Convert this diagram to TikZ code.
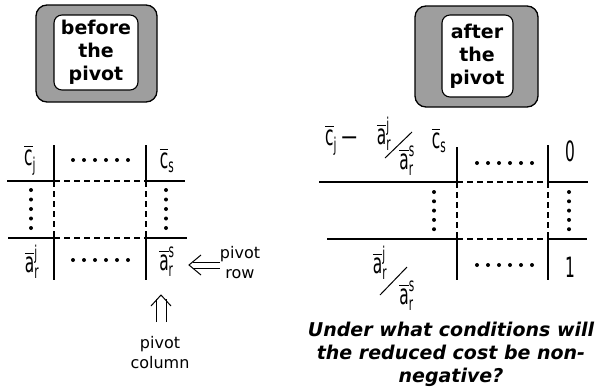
\documentclass[tikz,border=0pt]{standalone}
\usepackage{amsmath}
\usepackage{fontspec}
\setmainfont{DejaVu Sans}
\newfontfamily\tabfont[FakeStretch=0.55]{DejaVu Sans}
\newcommand\ov[1]{\overline{\text{#1}}}
\newcommand\ix[1]{\text{\fontsize{19}{19}\selectfont #1}}
\begin{document}
\begin{tikzpicture}[x=1pt,y=-1pt,
  solidline/.style={line width=1.1pt},
  dashline/.style={line width=1.1pt, dash pattern=on 6pt off 4pt},
  greyframe/.style={draw, line width=1.3pt, rounded corners=11pt, fill=black!38},
  card/.style={draw, line width=1.1pt, rounded corners=8pt, fill=white},
  boxtext/.style={font=\fontsize{19}{23}\selectfont\bfseries, align=center, inner sep=0pt},
  entry/.style={font=\tabfont\fontsize{28}{32}\selectfont, inner sep=0pt},
  smalltext/.style={font=\fontsize{16}{20}\selectfont, align=center, inner sep=0pt},
  question/.style={font=\fontsize{19}{23}\selectfont\bfseries\itshape, align=center, inner sep=0pt},
  arrowline/.style={line width=1pt}
]
\useasboundingbox (0,0) rectangle (597,389);

% ---- framed titles ----
\draw[greyframe] (36,5) rectangle (157,102);
\draw[card] (54,15) rectangle (138,90);
\node[boxtext] (before) at (96,52) {before\\the\\pivot};

\draw[greyframe] (415,6) rectangle (538,107);
\draw[card] (442,15) rectangle (513,97);
\node[boxtext] (after) at (477,56) {after\\the\\pivot};

% ---- tableau before the pivot ----
\draw[solidline] (7,181) -- (54,181) (146,181) -- (185,181);
\draw[dashline] (54,181) -- (146,181);
\draw[solidline] (8,238) -- (54,238) (146,238) -- (187,238);
\draw[dashline] (54,238) -- (146,238);
\foreach \x in {54,146} {
  \draw[solidline] (\x,145) -- (\x,181) (\x,238) -- (\x,280);
  \draw[dashline] (\x,181) -- (\x,238);
}
\foreach \i in {0,...,5} {
  \fill (73+11*\i,160) circle (2pt);
  \fill (73+11*\i,260) circle (2pt);
}
\foreach \i in {0,...,4} {
  \fill (31,190+9.5*\i) circle (2pt);
  \fill (166,190+9.5*\i) circle (2pt);
}
\node[entry] (cj) at (30,160) {$\ov{c}_{\ix{j}}$};
\node[entry] (cs) at (167,160) {$\ov{c}_{\ix{s}}$};
\node[entry] (arj) at (32,262) {$\ov{a}^{\ix{j}}_{\ix{r}}$};
\node[entry] (ars) at (167,262) {$\ov{a}^{\ix{s}}_{\ix{r}}$};

% pivot row marker
\node[smalltext] (prow) at (240,263) {pivot\\row};
\coordinate (rowtip) at (189,265);
\draw[arrowline] (prow.west |- 0,262) -- (193,262);
\draw[arrowline] (prow.west |- 0,268) -- (193,268);
\draw[arrowline] (201,255) -- (rowtip) -- (201,275);

% pivot column marker
\node[smalltext] (pcol) at (160,353) {pivot\\column};
\coordinate (coltip) at (161,295);
\draw[arrowline] (156,322) -- (156,299);
\draw[arrowline] (166,322) -- (166,299);
\draw[arrowline] (151,306) -- (coltip) -- (171,306);

% ---- tableau after the pivot ----
\draw[solidline] (319,182) -- (457,182) (548,182) -- (588,182);
\draw[dashline] (457,182) -- (548,182);
\draw[solidline] (327,239) -- (457,239) (548,239) -- (587,239);
\draw[dashline] (457,239) -- (548,239);
\draw[solidline] (457,147) -- (457,182) (457,239) -- (457,280);
\draw[dashline] (457,182) -- (457,239);
\draw[solidline] (548,145) -- (548,182) (548,239) -- (548,280);
\draw[dashline] (548,182) -- (548,239);
\foreach \i in {0,...,5} {
  \fill (477+11*\i,163) circle (2pt);
  \fill (477+11*\i,265) circle (2pt);
}
\foreach \i in {0,...,4} {
  \fill (434,192+9.3*\i) circle (2pt);
  \fill (569,192+9.3*\i) circle (2pt);
}
\node[entry] (zero) at (570,151) {0};
\node[entry] (one) at (570,267) {1};

% updated reduced cost
\node[entry, anchor=west] (ecj) at (325,140) {$\ov{c}_{\ix{j}}$\,—};
\node[entry] (eaj) at (384,134) {$\ov{a}^{\ix{j}}_{\ix{r}}$};
\coordinate (s1a) at (385,158);
\coordinate (s1b) at (412,132);
\draw[arrowline] (s1a) -- (s1b);
\node[entry] (eas) at (407,161) {$\ov{a}^{\ix{s}}_{\ix{r}}$};
\node[entry] (ecs) at (439,140) {$\ov{c}_{\ix{s}}$};

% updated pivot row entry
\node[entry] (baj) at (380,263) {$\ov{a}^{\ix{j}}_{\ix{r}}$};
\coordinate (s2a) at (380,295);
\coordinate (s2b) at (407,267);
\draw[arrowline] (s2a) -- (s2b);
\node[entry] (bas) at (407,296) {$\ov{a}^{\ix{s}}_{\ix{r}}$};

% question
\node[question] (q) at (451,354) {Under what conditions will\\the reduced cost be non-\\negative?};
\end{tikzpicture}
\end{document}
